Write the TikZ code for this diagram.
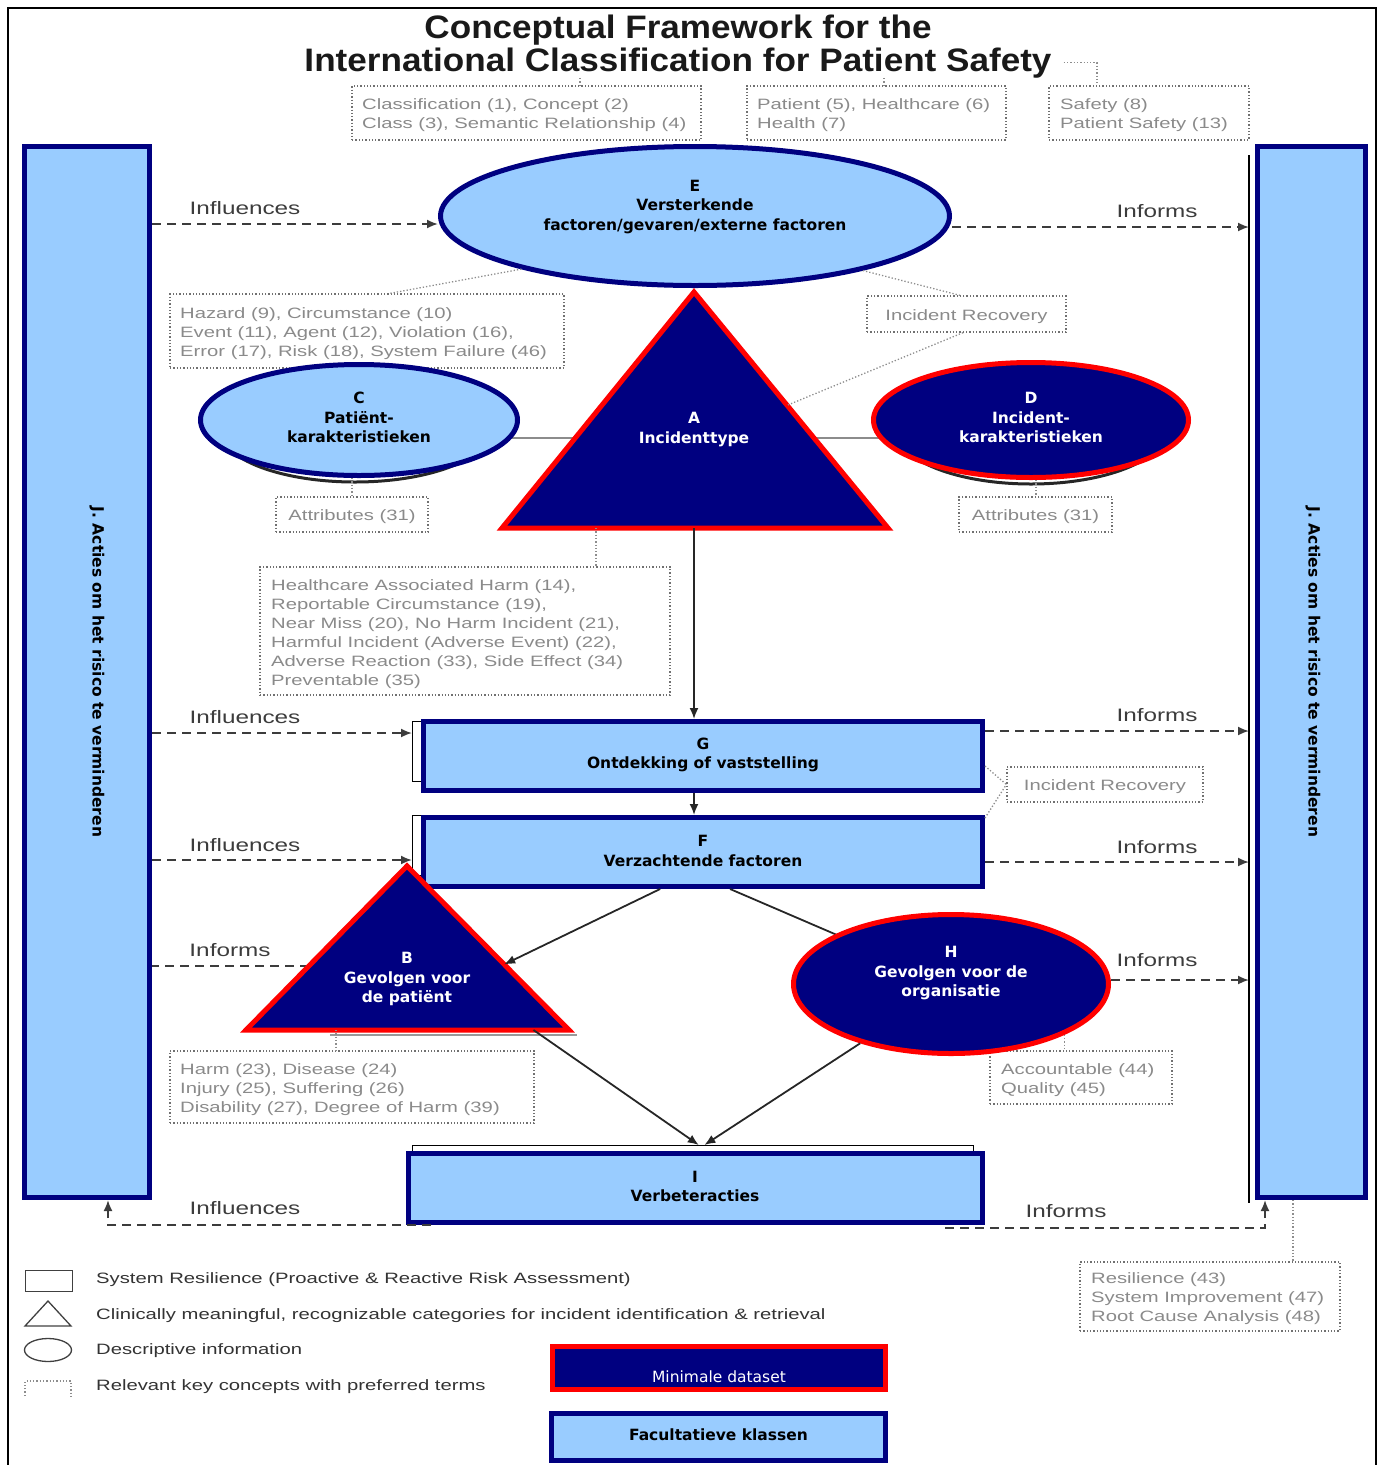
\documentclass[tikz,border=0pt]{standalone}
\usepackage{fontspec}
\setmainfont{DejaVu Sans}
\newfontfamily\verd{DejaVu Sans}
\newfontfamily\arl[FakeStretch=1.35]{Liberation Sans}
\newfontfamily\ttlf[FakeStretch=1.08]{Liberation Sans}
\usetikzlibrary{shapes.geometric,arrows.meta,calc}
\pgfdeclarelayer{bg}
\pgfsetlayers{bg,main}
\definecolor{navy}{HTML}{000080}
\definecolor{lblue}{HTML}{99CCFF}
\definecolor{redb}{HTML}{FF0000}
\definecolor{keygray}{HTML}{8A8A8A}
\definecolor{keyline}{HTML}{707070}
\definecolor{labgray}{HTML}{3C3C3C}
\begin{document}
\begin{tikzpicture}[x=1pt,y=-1pt,
  lbrect/.style={rectangle,draw=navy,fill=lblue,line width=5pt,inner sep=0pt},
  lboval/.style={ellipse,draw=navy,fill=lblue,line width=5pt,inner sep=0pt},
  nvoval/.style={ellipse,draw=redb,fill=navy,line width=5pt,inner sep=0pt},
  nvrect/.style={rectangle,draw=redb,fill=navy,line width=5pt,inner sep=0pt},
  tri/.style={draw=redb,fill=navy,line width=5pt,line join=miter},
  btxt/.style={font=\verd\bfseries\fontsize{15.5}{19.5}\selectfont,align=center,text=black,inner sep=0pt},
  wtxt/.style={btxt,text=white},
  keybox/.style={draw=keyline,dotted,line width=1.3pt,rectangle,inner sep=0pt},
  keytxt/.style={font=\arl\fontsize{15}{19}\selectfont,text=keygray,align=left,inner sep=0pt,anchor=west,yshift=-2.5pt},
  keyln/.style={draw=keyline!80,dotted,line width=1.3pt},
  lab/.style={font=\arl\fontsize{18}{20}\selectfont,text=labgray,inner sep=0pt},
  dasharr/.style={draw=labgray,line width=1.8pt,dash pattern=on 9pt off 6pt,-{Latex[length=11pt,width=9pt]}},
  dashln/.style={draw=labgray,line width=1.8pt,dash pattern=on 9pt off 6pt},
  solarr/.style={draw=black!85,line width=1.8pt,-{Latex[length=11pt,width=9pt]}},
  solln/.style={draw=black!85,line width=1.8pt},
  wbox/.style={draw=black,fill=white,line width=1.3pt,rectangle,inner sep=0pt,anchor=north west},
  legtxt/.style={font=\arl\fontsize{15}{18}\selectfont,text=black!80,anchor=west,inner sep=0pt},
  legicon/.style={draw=black!75,line width=1.3pt,inner sep=0pt}
]
\useasboundingbox (0,0) rectangle (1384,1465);
% frame
\draw[line width=2.5pt] (8,1470) -- (8,8) -- (1376,8) -- (1376,1470);

% title
\node[font=\ttlf\bfseries\fontsize{32.5}{33}\selectfont,anchor=base,inner sep=0pt,text=black!90] (T1) at (678,38) {Conceptual Framework for the};
\node[font=\ttlf\bfseries\fontsize{32.5}{33}\selectfont,anchor=base,inner sep=0pt,text=black!90] (T2) at (678,71) {International Classification for Patient Safety};

% key concept boxes
\node[keybox,minimum width=349,minimum height=54] (K1) at (526.5,113) {};
\node[keytxt] (K1t) at (362,113) {Classification (1), Concept (2)\\Class (3), Semantic Relationship (4)};
\node[keybox,minimum width=259,minimum height=54] (K2) at (876.5,113) {};
\node[keytxt] (K2t) at (757,113) {Patient (5), Healthcare (6)\\Health (7)};
\node[keybox,minimum width=200,minimum height=54] (K3) at (1149,113) {};
\node[keytxt] (K3t) at (1060,113) {Safety (8)\\Patient Safety (13)};
\node[keybox,minimum width=394,minimum height=74] (Kh) at (367,331) {};
\node[keytxt] (Kht) at (180,331) {Hazard (9), Circumstance (10)\\Event (11), Agent (12), Violation (16),\\Error (17), Risk (18), System Failure (46)};
\node[keybox,minimum width=199,minimum height=36] (Kir) at (966.5,314) {};
\node[keytxt,anchor=center] (Kirt) at (966.5,314) {Incident Recovery};
\node[keybox,minimum width=152,minimum height=35] (KaL) at (352,514.5) {};
\node[keytxt,anchor=center] (KaLt) at (352,514.5) {Attributes (31)};
\node[keybox,minimum width=153,minimum height=35] (KaR) at (1035.5,514.5) {};
\node[keytxt,anchor=center] (KaRt) at (1035.5,514.5) {Attributes (31)};
\node[keybox,minimum width=410,minimum height=128] (Kb) at (465,631) {};
\node[keytxt] (Kbt) at (271,632) {Healthcare Associated Harm (14),\\Reportable Circumstance (19),\\Near Miss (20), No Harm Incident (21),\\Harmful Incident (Adverse Event) (22),\\Adverse Reaction (33), Side Effect (34)\\Preventable (35)};
\node[keybox,minimum width=196,minimum height=35] (Kir2) at (1105,784.5) {};
\node[keytxt,anchor=center] (Kir2t) at (1105,784.5) {Incident Recovery};
\node[keybox,minimum width=364,minimum height=72] (Kharm) at (352,1087) {};
\node[keytxt] (Kharmt) at (180,1087) {Harm (23), Disease (24)\\Injury (25), Suffering (26)\\Disability (27), Degree of Harm (39)};
\node[keybox,minimum width=182,minimum height=53] (Kacc) at (1081,1077.5) {};
\node[keytxt] (Kacct) at (1001,1077.5) {Accountable (44)\\Quality (45)};
\node[keybox,minimum width=260,minimum height=69] (Kres) at (1210,1296.5) {};
\node[keytxt] (Krest) at (1091,1296.5) {Resilience (43)\\System Improvement (47)\\Root Cause Analysis (48)};

% J boxes
\node[lbrect,minimum width=125,minimum height=1051] (Jl) at (87,672) {};
\node[btxt,rotate=-90] (Jlt) at (97,672) {J. Acties om het risico te verminderen};
\draw[line width=1.3pt] (1249,155) -- (1249,1203);
\node[lbrect,minimum width=108,minimum height=1051] (Jr) at (1311.5,672) {};
\node[btxt,rotate=-90] (Jrt) at (1313,672) {J. Acties om het risico te verminderen};
\coordinate (JrL) at (1249,672);

% ellipses E, C, D
\node[lboval,minimum width=509,minimum height=139] (E) at (695,216) {};
\node[btxt] (Et) at (695,207) {E\\Versterkende\\factoren/gevaren/externe factoren};
\node[lboval,minimum width=317,minimum height=111] (C) at (359,420) {};
\node[btxt] (Ct) at (359,417.5) {C\\Patiënt-\\karakteristieken};
\node[nvoval,minimum width=315,minimum height=115] (D) at (1031,420) {};
\node[wtxt] (Dt) at (1031,417.5) {D\\Incident-\\karakteristieken};
\begin{pgfonlayer}{bg}
  \draw[draw=black!45,line width=2.5pt] ($(C.center)+(0,18)$) -- ($(D.center)+(0,18)$);
  \draw[draw=black!85,line width=3pt] ($(C.center)+(-4,10)$) ellipse [x radius=135,y radius=52];
  \draw[draw=black!85,line width=3pt] ($(D.center)+(0,10)$) ellipse [x radius=135,y radius=54];
\end{pgfonlayer}

% triangle A
\coordinate (Aap) at (694,292);
\coordinate (Al) at (502,528);
\coordinate (Ar) at (888,528);
\draw[tri] (Aap) -- (Ar) -- (Al) -- cycle;
\node[wtxt] (At) at (694,429.5) {A\\Incidenttype};

% G, F, I
\node[wbox,minimum width=568,minimum height=60] (Gw) at (412,721) {};
\node[lbrect,minimum width=559,minimum height=69] (G) at (703,756) {};
\node[btxt] (Gt) at (703,755) {G\\Ontdekking of vaststelling};
\node[wbox,minimum width=568,minimum height=60] (Fw) at (412,815) {};
\node[lbrect,minimum width=559,minimum height=69] (F) at (703,852) {};
\node[btxt] (Ft) at (703,851) {F\\Verzachtende factoren};
\node[wbox,minimum width=561,minimum height=60] (Iw) at (412,1145) {};
\node[lbrect,minimum width=574,minimum height=69] (I) at (695.5,1188) {};
\node[btxt] (It) at (695,1186.5) {I\\Verbeteracties};

% F -> H line (behind H)
\coordinate (Fb1) at ($(F.south west)!0.424!(F.south east)$);
\coordinate (Fb2) at ($(F.south west)!0.548!(F.south east)$);
\draw[solln] (Fb2) -- (951,984);

% triangle B
\coordinate (Bap) at (407,866);
\coordinate (Bl) at (246,1030);
\coordinate (Br) at (569,1030);
\coordinate (Ble) at ($(Bap)!0.61!(Bl)$);
\begin{pgfonlayer}{bg}
  \draw[dashln] (Ble) -- (Jl.east |- Ble);
  \draw[draw=black!40,line width=2pt] (330,1035) -- (577,1035);
\end{pgfonlayer}
\draw[tri] (Bap) -- (Br) -- (Bl) -- cycle;
\node[wtxt] (Bt) at (407,979) {B\\Gevolgen voor\\de patiënt};

% ellipse H
\node[nvoval,minimum width=315,minimum height=139] (H) at (951,984) {};
\node[wtxt] (Ht) at (951,973.5) {H\\Gevolgen voor de\\organisatie};

% solid connectors
\draw[solarr] (Aap |- Al) -- (Aap |- G.north);
\draw[solarr] (Aap |- G.south) -- (Aap |- F.north);
\coordinate (Bre) at ($(Bap)!0.6!(Br)$);
\draw[solarr] (Fb1) -- (Bre);
\coordinate (Bb) at ($(Bl)!0.89!(Br)$);
\coordinate (It1) at ($(Iw.north west)!0.51!(Iw.north east)$);
\coordinate (It2) at ($(Iw.north west)!0.52!(Iw.north east)$);
\draw[solarr] (Bb) -- (It1);
\draw[solarr] (H) -- (It2);

% dashed connectors
\draw[dasharr] (Jl.east |- 0,224) -- ([yshift=-8pt]E.west);
\draw[dasharr] (E.east |- 0,227) -- (JrL |- 0,227);
\draw[dasharr] (Jl.east |- 0,733) -- (Gw.west |- 0,733);
\draw[dasharr] (G.east |- 0,731) -- (JrL |- 0,731);
\draw[dasharr] (Jl.east |- 0,860) -- (Fw.west |- 0,860);
\draw[dasharr] (F.east |- 0,862) -- (JrL |- 0,862);
\draw[dasharr] (H.east |- 0,980) -- (JrL |- 0,980);
\draw[dasharr] ($(I.south west)+(25,0)$) -| (Jl.south -| 108,0);
\draw[dasharr] ($(I.south east)+(-40,3)$) -| (Jr.south -| 1265,0);

% labels
\node[lab] (L1) at (245,208) {Influences};
\node[lab] (L2) at (1157,211) {Informs};
\node[lab] (L3) at (245,717) {Influences};
\node[lab] (L4) at (1157,715) {Informs};
\node[lab] (L5) at (245,845) {Influences};
\node[lab] (L6) at (1157,847) {Informs};
\node[lab] (L7) at (230,950) {Informs};
\node[lab] (L8) at (1157,960) {Informs};
\node[lab] (L9) at (245,1208) {Influences};
\node[lab] (L10) at (1066,1211) {Informs};

% dotted key connectors
\draw[keyln] ([xshift=12pt]T2.east) -| (K3.north -| 1097,0);
\draw[keyln] (T2.south -| 580,0) -- (K1.north -| 580,0);
\draw[keyln] (T2.south -| 884,0) -- (K2.north -| 884,0);
\draw[keyln] (E.197) -- (Kh.north -| 390,0);
\draw[keyln] (E.342) -- (Kir.north -| 960,0);
\draw[keyln] (Kir.south -| 963,0) -- ($(Aap)!0.48!(Ar)$);
\draw[keyln] (C.south -| 352,0) -- (KaL.north -| 352,0);
\draw[keyln] (D.south -| 1036,0) -- (KaR.north -| 1036,0);
\draw[keyln] (Al -| 596,0) -- (Kb.north -| 596,0);
\draw[keyln] (G.east |- 0,766) -- (Kir2.west);
\draw[keyln] (F.east |- 0,818) -- (Kir2.west);
\draw[keyln] (Bl -| 336,0) -- (Kharm.north -| 336,0);
\draw[keyln] (H.-24) -- (Kacc.north -| H.-24);
\draw[keyln] (Jr.south -| 1293,0) -- (Kres.north -| 1293,0);

% legend
\node[legicon,rectangle,minimum width=47,minimum height=21] (LG1) at (49,1281) {};
\draw[legicon] (25,1326) -- (48,1301) -- (71,1326) -- cycle;
\node[legicon,ellipse,minimum width=47,minimum height=23] (LG3) at (48,1350) {};
\draw[keyln] (25,1396) -- (25,1381) -- (71,1381) -- (71,1396);
\node[legtxt] (LT1) at (96,1280) {System Resilience (Proactive \& Reactive Risk Assessment)};
\node[legtxt] (LT2) at (96,1316) {Clinically meaningful, recognizable categories for incident identification \& retrieval};
\node[legtxt] (LT3) at (96,1351) {Descriptive information};
\node[legtxt] (LT4) at (96,1387) {Relevant key concepts with preferred terms};

\node[nvrect,minimum width=333,minimum height=43] (MD) at (719,1368) {};
\node[font=\verd\fontsize{15.5}{18}\selectfont,text=white,inner sep=0pt] (MDt) at (719,1377) {Minimale dataset};
\node[lbrect,minimum width=334,minimum height=47] (FK) at (718.5,1437) {};
\node[btxt] (FKt) at (718.5,1435) {Facultatieve klassen};
\end{tikzpicture}
\end{document}
